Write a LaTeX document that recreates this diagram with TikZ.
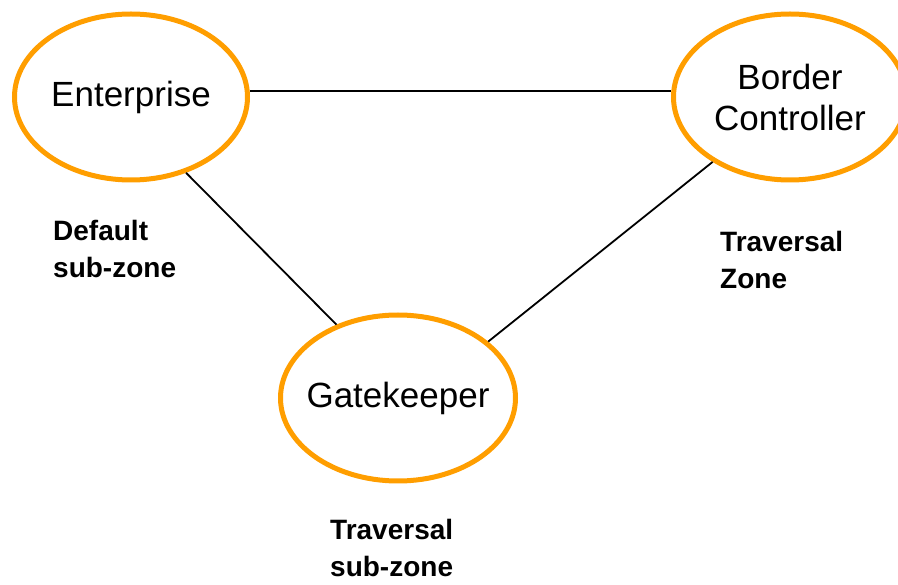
\documentclass[tikz,border=0pt]{standalone}
\usepackage{fontspec}
\setmainfont{Liberation Sans}
\usetikzlibrary{shapes.geometric}
\definecolor{zoneorange}{HTML}{FF9E00}
\tikzset{
  zone/.style={ellipse, draw=zoneorange, line width=5pt, inner sep=0pt,
    minimum width=233pt, minimum height=166pt, align=center,
    font=\fontsize{35}{41}\selectfont},
  link/.style={draw=black, line width=1.8pt},
  lbl/.style={anchor=north west, inner sep=0pt, align=left,
    font=\fontsize{28}{37}\selectfont\bfseries}
}
\begin{document}
\begin{tikzpicture}[x=1pt,y=-1pt]
\useasboundingbox (0,0) rectangle (898,585);
\clip (0,0) rectangle (898,585);
\node[zone] (ent) at (131,97) {Enterprise};
\node[zone] (bc) at (790,97) {Border\\Controller};
\node[zone, inner xsep=-12pt, minimum width=235pt] (gk) at (398,398) {Gatekeeper};
\draw[link] (ent.3) -- (bc.177);
\draw[link] (ent.-54.6) -- (gk.130);
\draw[link] (bc.-140) -- (gk.32);
\node[lbl] (dsz) at (53,220) {Default\\sub-zone};
\node[lbl] (tz) at (720,231) {Traversal\\Zone};
\node[lbl] (tsz) at (330,519) {Traversal\\sub-zone};
\end{tikzpicture}
\end{document}
